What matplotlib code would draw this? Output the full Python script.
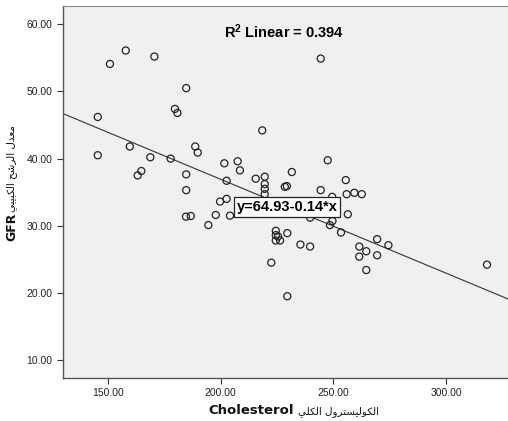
import numpy as np
import matplotlib.pyplot as plt

# Total cholesterol vs GFR, one point per patient
cholesterol = [145.6, 145.6, 151.0, 158.0, 159.8, 170.7, 168.9, 164.9, 163.3, 177.9,
               179.8, 180.9, 184.8, 188.8, 189.9, 184.8, 184.8, 201.7, 202.7, 207.6,
               208.6, 215.6, 199.8, 202.7, 218.5, 184.7, 186.8, 197.9, 194.6, 204.2,
               244.4, 247.5, 231.6, 219.6, 219.6, 219.6, 219.6, 228.5, 229.4, 244.4,
               255.5, 255.9, 259.3, 262.6, 249.5, 224.5, 224.5, 225.5, 224.5, 226.4,
               229.6, 235.4, 239.7, 222.5, 229.6, 256.4, 248.5, 249.6, 253.4, 239.7,
               269.4, 274.4, 261.5, 264.6, 269.4, 261.5, 264.6, 318.1]
gfr = [46.2, 40.5, 54.1, 56.1, 41.8, 55.2, 40.2, 38.15, 37.5, 40.0,
       47.4, 46.8, 50.5, 41.8, 40.9, 37.65, 35.3, 39.3, 36.7, 39.6,
       38.25, 37.0, 33.6, 34.0, 44.2, 31.35, 31.45, 31.6, 30.1, 31.5,
       54.9, 39.75, 38.0, 37.3, 36.2, 35.5, 34.7, 35.8, 35.9, 35.3,
       36.8, 34.7, 34.9, 34.7, 34.3, 29.25, 28.6, 28.4, 27.8, 27.8,
       28.9, 27.2, 26.9, 24.5, 19.5, 31.7, 30.1, 30.7, 29.0, 31.2,
       28.0, 27.1, 26.9, 26.2, 25.6, 25.4, 23.4, 24.2]

intercept = 64.93
slope = -0.14
r_squared = 0.394

x_ticks = [150, 200, 250, 300]
y_ticks = [10, 20, 30, 40, 50, 60]

# Arabic presentation forms: isolated, final, initial, medial
FORMS = {
    'ا': '\uFE8D\uFE8E', 'د': '\uFEA9\uFEAA', 'ر': '\uFEAD\uFEAE', 'و': '\uFEED\uFEEE',
    'ب': '\uFE8F\uFE90\uFE91\uFE92', 'ت': '\uFE95\uFE96\uFE97\uFE98',
    'ح': '\uFEA1\uFEA2\uFEA3\uFEA4', 'س': '\uFEB1\uFEB2\uFEB3\uFEB4',
    'ش': '\uFEB5\uFEB6\uFEB7\uFEB8', 'ع': '\uFEC9\uFECA\uFECB\uFECC',
    'ك': '\uFED9\uFEDA\uFEDB\uFEDC', 'ل': '\uFEDD\uFEDE\uFEDF\uFEE0',
    'م': '\uFEE1\uFEE2\uFEE3\uFEE4', 'ي': '\uFEF1\uFEF2\uFEF3\uFEF4',
}


def arabic(text):
    # join letters into their contextual forms, then flip to visual order
    out = []
    for i, c in enumerate(text):
        if c not in FORMS:
            out.append(c)
            continue
        prev = text[i - 1] if i > 0 else None
        nxt = text[i + 1] if i + 1 < len(text) else None
        jp = prev in FORMS and len(FORMS[prev]) == 4
        jn = nxt in FORMS and len(FORMS[c]) == 4
        f = FORMS[c]
        if jp and jn:
            out.append(f[3])
        elif jp:
            out.append(f[1])
        elif jn:
            out.append(f[2])
        else:
            out.append(f[0])
    return ''.join(out)[::-1]


plt.rcParams['mathtext.fontset'] = 'custom'
plt.rcParams['mathtext.rm'] = 'Liberation Sans:bold'
plt.rcParams['mathtext.it'] = 'Liberation Sans:bold'
plt.rcParams['mathtext.bf'] = 'Liberation Sans:bold'

W, H = 508, 421
fig = plt.figure(figsize=(W / 100, H / 100), dpi=100)
ax = fig.add_axes([63 / W, 43 / H, 445 / W, 372 / H])
ax.set_facecolor('#f0f0f0')

ax.scatter(cholesterol, gfr, s=26, facecolors='none', edgecolors='#222222',
           linewidths=0.9, zorder=3)

xs = np.array([130.2, 327.4])
ax.plot(xs, intercept + slope * xs, color='#333333', lw=0.8, zorder=2)

ax.set_xlim(130.2, 327.4)
ax.set_ylim(7.32, 62.73)
ax.set_xticks(x_ticks)
ax.set_yticks(y_ticks)
ax.set_xticklabels([f'{v:.2f}' for v in x_ticks])
ax.set_yticklabels([f'{v:.2f}' for v in y_ticks])
ax.tick_params(labelsize=7.5, colors='#333333', length=4, width=0.8,
               labelcolor='#222222')
for t in ax.get_xticklabels() + ax.get_yticklabels():
    t.set_family(['Liberation Sans'])

for s in ['left', 'bottom']:
    ax.spines[s].set_color('#555555')
    ax.spines[s].set_linewidth(1.0)
ax.spines['top'].set_color('#888888')
ax.spines['right'].set_visible(False)

ax.text(0.497, 0.930, f'R$^2$ Linear = {r_squared}', transform=ax.transAxes,
        ha='center', va='center', fontsize=10.5, fontweight='bold',
        family=['Liberation Sans'])

ax.text(0.503, 0.46, f'y={intercept}{slope}*x', transform=ax.transAxes,
        ha='center', va='center', fontsize=10.5, fontweight='bold',
        family=['Liberation Sans'], zorder=5,
        bbox=dict(boxstyle='square,pad=0.18', fc='white', ec='#222222', lw=0.9))

# axis titles: bold latin part, lighter arabic part
fig.text(294 / W, 1 - 414 / H, 'Cholesterol', ha='right', va='baseline',
         fontsize=9.5, fontweight='bold', family=['DejaVu Sans'], color='#111111')
fig.text(298 / W, 1 - 414 / H, arabic('الكوليسترول الكلي'), ha='left',
         va='baseline', fontsize=7.5, family=['DejaVu Sans'], color='#111111')

fig.text(12 / W, 1 - 241 / H, 'GFR', rotation=90, ha='center', va='bottom',
         fontsize=9, fontweight='bold', family=['DejaVu Sans'], color='#111111')
fig.text(12 / W, 1 - 212 / H, arabic('معدل الرشح الكبيبي'), rotation=90,
         ha='center', va='bottom', fontsize=7.5, family=['DejaVu Sans'],
         color='#111111')

fig.savefig('out.png', dpi=100)
